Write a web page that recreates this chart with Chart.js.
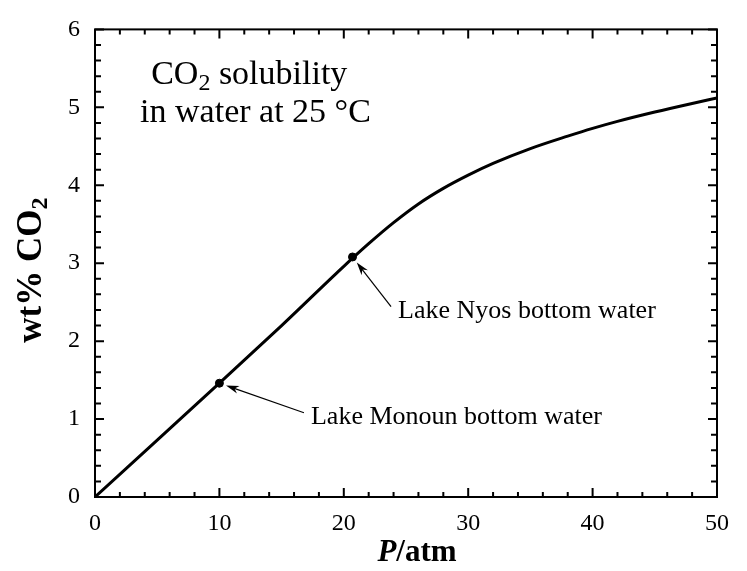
<!DOCTYPE html>
<html>
<head>
<meta charset="utf-8">
<script src="https://cdn.jsdelivr.net/npm/chart.js@4"></script>
<style>
  html, body { margin: 0; padding: 0; background: #fff; }
  #wrap { width: 747px; height: 571px; }
</style>
</head>
<body>
<div id="wrap"><canvas id="co2-chart" width="747" height="571"></canvas></div>
<script>
// solubility curve
const pressure = [0, 5, 10, 15, 20, 22, 24, 26, 28, 30, 32, 35, 38, 40, 42, 45, 48, 50];
const wtPct = [0, 0.73, 1.46, 2.2, 2.96, 3.25, 3.52, 3.76, 3.96, 4.13, 4.28, 4.47, 4.63, 4.73, 4.82, 4.94, 5.05, 5.12];

// marked lakes
const lakeNames = ['Lake Monoun bottom water', 'Lake Nyos bottom water'];
const lakeP = [10, 20.7];
const lakeWt = [1.46, 3.08];

const xTicks = [0, 10, 20, 30, 40, 50];
const yTicks = [0, 1, 2, 3, 4, 5, 6];

const serif = "'Liberation Serif', 'Times New Roman', serif";

// label anchors in data units (left edge / middle of text)
const labelAnchors = [{ x: 17.36, y: 1.03 }, { x: 24.36, y: 2.39 }];

function drawSub(ctx, parts, x, y, align) {
    // parts: [text, font, dy]
    let total = 0;
    parts.forEach(p => { ctx.font = p[1]; total += ctx.measureText(p[0]).width; });
    let cx = align === 'center' ? x - total / 2 : x;
    ctx.textAlign = 'left';
    parts.forEach(p => {
        ctx.font = p[1];
        ctx.fillText(p[0], cx, y + (p[2] || 0));
        cx += ctx.measureText(p[0]).width;
    });
}

const framePlugin = {
    id: 'frame',
    afterDraw(chart) {
        const ctx = chart.ctx;
        const a = chart.chartArea;
        const xs = chart.scales.x;
        const ys = chart.scales.y;
        ctx.save();
        ctx.strokeStyle = '#000';
        ctx.fillStyle = '#000';

        // frame
        ctx.lineWidth = 2;
        ctx.strokeRect(a.left, a.top, a.right - a.left, a.bottom - a.top);

        // inward ticks
        ctx.beginPath();
        for (let v = 0; v <= 50; v += 2) {
            const px = xs.getPixelForValue(v);
            const len = v % 10 === 0 ? 9 : 5;
            ctx.moveTo(px, a.bottom); ctx.lineTo(px, a.bottom - len);
            ctx.moveTo(px, a.top); ctx.lineTo(px, a.top + len);
        }
        for (let i = 0; i <= 30; i++) {
            const py = ys.getPixelForValue(i / 5);
            const len = i % 5 === 0 ? 9 : 6;
            ctx.moveTo(a.left, py); ctx.lineTo(a.left + len, py);
            ctx.moveTo(a.right, py); ctx.lineTo(a.right - len, py);
        }
        ctx.stroke();

        // title text inside plot
        ctx.textBaseline = 'middle';
        const f34 = '34px ' + serif;
        const f24 = '24px ' + serif;
        drawSub(ctx, [['CO', f34], ['2', f24, 8], [' solubility', f34]],
            xs.getPixelForValue(12.4), ys.getPixelForValue(5.41), 'center');
        drawSub(ctx, [['in water at 25 \u00B0C', f34]],
            xs.getPixelForValue(12.9), ys.getPixelForValue(4.93), 'center');

        // lake labels and arrows
        ctx.font = '26px ' + serif;
        ctx.textAlign = 'left';
        lakeNames.forEach((name, i) => {
            const lx = xs.getPixelForValue(labelAnchors[i].x);
            const ly = ys.getPixelForValue(labelAnchors[i].y);
            ctx.fillText(name, lx, ly);

            const tx = lx - 7, ty = ly - 4;
            const px = xs.getPixelForValue(lakeP[i]);
            const py = ys.getPixelForValue(lakeWt[i]);
            const dx = px - tx, dy = py - ty;
            const d = Math.hypot(dx, dy);
            const ux = dx / d, uy = dy / d;
            const hx = px - ux * 7, hy = py - uy * 7;
            ctx.lineWidth = 1.2;
            ctx.beginPath();
            ctx.moveTo(tx, ty);
            ctx.lineTo(hx - ux * 8, hy - uy * 8);
            ctx.stroke();
            // arrow head
            const nx = -uy, ny = ux;
            ctx.beginPath();
            ctx.moveTo(hx, hy);
            ctx.lineTo(hx - ux * 13 + nx * 4, hy - uy * 13 + ny * 4);
            ctx.lineTo(hx - ux * 9, hy - uy * 9);
            ctx.lineTo(hx - ux * 13 - nx * 4, hy - uy * 13 - ny * 4);
            ctx.closePath();
            ctx.fill();
        });

        // axis titles
        ctx.textBaseline = 'middle';
        const xMid = (a.left + a.right) / 2 + 11;
        drawSub(ctx, [['P', 'italic bold 31px ' + serif], ['/atm', 'bold 31px ' + serif]],
            xMid, 553, 'center');

        ctx.translate(32, (a.top + a.bottom) / 2 + 7);
        ctx.rotate(-Math.PI / 2);
        drawSub(ctx, [['wt% CO', 'bold 35px ' + serif], ['2', 'bold 24px ' + serif, 9]],
            0, 0, 'center');
        ctx.restore();
    }
};

const ctx = document.getElementById('co2-chart').getContext('2d');

new Chart(ctx, {
    type: 'scatter',
    data: {
        datasets: [{
            label: 'solubility',
            data: pressure.map((p, i) => ({ x: p, y: wtPct[i] })),
            showLine: true,
            borderColor: '#000',
            borderWidth: 3,
            pointRadius: 0,
            cubicInterpolationMode: 'monotone',
            fill: false
        }, {
            label: 'lakes',
            data: lakeP.map((p, i) => ({ x: p, y: lakeWt[i] })),
            backgroundColor: '#000',
            borderColor: '#000',
            pointRadius: 4,
            showLine: false
        }]
    },
    options: {
        responsive: false,
        animation: false,
        layout: { padding: { left: 0, right: 30, top: 20, bottom: 0 } },
        plugins: {
            legend: { display: false },
            tooltip: { enabled: false }
        },
        scales: {
            x: {
                type: 'linear',
                min: 0, max: 50,
                afterFit(scale) { scale.height = 74; },
                afterBuildTicks(scale) { scale.ticks = xTicks.map(v => ({ value: v })); },
                grid: { display: false, drawTicks: false },
                border: { display: false },
                ticks: {
                    color: '#000',
                    padding: 12,
                    font: { family: serif, size: 24 }
                }
            },
            y: {
                type: 'linear',
                min: 0, max: 6,
                afterFit(scale) { scale.width = 95; },
                afterBuildTicks(scale) { scale.ticks = yTicks.map(v => ({ value: v })); },
                grid: { display: false, drawTicks: false },
                border: { display: false },
                ticks: {
                    color: '#000',
                    padding: 15,
                    font: { family: serif, size: 24 }
                }
            }
        }
    },
    plugins: [framePlugin]
});
</script>
</body>
</html>
